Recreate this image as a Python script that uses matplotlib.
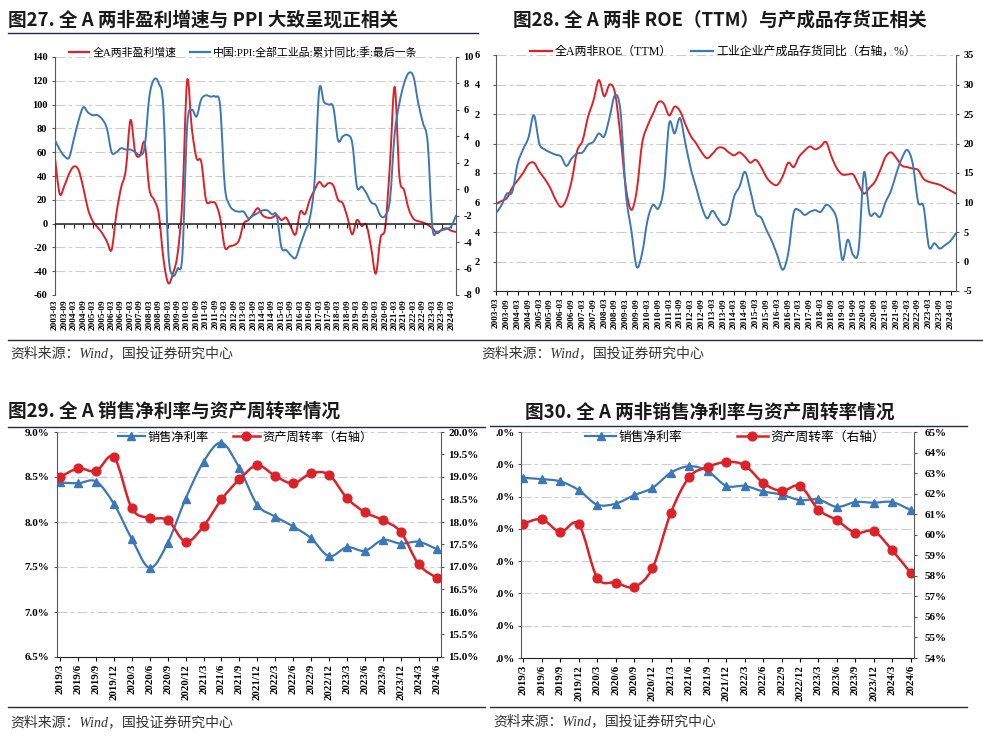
import numpy as np
import matplotlib
matplotlib.use('Agg')
import matplotlib.pyplot as plt
from matplotlib.path import Path
from matplotlib.patches import PathPatch
from matplotlib.lines import Line2D

plt.rcParams['font.family'] = ['Liberation Serif', 'Noto Sans CJK SC']
plt.rcParams['font.weight'] = 'bold'
plt.rcParams['axes.unicode_minus'] = False

W, H = 983, 740
RED = '#DC2228'
BLUE = '#3B78B5'
GRID = '#CCCCCC'
CJK = ['Liberation Serif', 'Noto Sans CJK SC']

# ---- top charts: quarterly 2003-03 .. 2024-06 ----
HALF_LABELS = [f'{y}-{m}' for y in range(2003, 2025) for m in ('03', '09')][:43]

PROFIT_GROWTH = [55, 25, 32, 42, 48, 45, 30, 12, 2, -3,
                 -8, -15, -22, 8, 30, 45, 87, 60, 57, 68,
                 29, 20, 8, -30, -50, -42, -25, 20, 120, 80,
                 55, 52, 20, 18, 17, 5, -20, -19, -18, -14,
                 0, 3, 8, 13, 7, 5, 5, 7, 3, 5,
                 -3, -9, 10, 8, 20, 28, 35, 31, 34, 32,
                 20, 17, 5, -9, 3, -2, -1, -20, -42, -12,
                 -3, 50, 115, 40, 28, 12, 4, 2, 1, -1,
                 -4, -8, -5, -4, -6, -7]
PPI_YTD = [3.7, 3.0, 2.5, 2.4, 3.8, 5.2, 6.2, 5.8, 5.6, 5.6,
           5.3, 4.6, 2.8, 2.8, 3.1, 3.0, 3.0, 2.8, 2.6, 3.2,
           7.0, 8.3, 8.0, 6.0, -4.6, -6.5, -6.0, -5.0, 4.7, 6.0,
           5.5, 6.8, 7.1, 7.0, 7.0, 6.3, 0.2, -1.2, -1.6, -1.7,
           -1.7, -2.2, -2.0, -1.8, -1.6, -1.6, -1.9, -2.0, -4.4, -4.6,
           -5.0, -5.2, -4.2, -3.2, -2.2, 0.5, 7.5, 6.6, 6.4, 6.2,
           3.7, 4.0, 4.1, 3.5, 0.2, 0.2, -0.3, -1.0, -1.2, -2.0,
           -2.0, -0.8, 4.2, 6.5, 8.0, 8.8, 8.5, 6.5, 5.0, 3.5,
           -2.9, -3.2, -3.1, -3.0, -2.8, -2.0]

ROE_TTM = [5.9, 6.1, 6.3, 7.0, 7.5, 8.0, 8.6, 8.7, 8.1, 7.6,
           7.0, 6.2, 5.7, 6.2, 7.5, 9.5, 10.2, 11.8, 12.9, 14.3,
           13.2, 14.0, 13.4, 10.5, 7.0, 5.5, 6.8, 10.0, 11.2, 12.0,
           12.8, 12.7, 11.9, 12.5, 12.2, 11.3, 10.5, 10.0, 9.4, 9.0,
           9.3, 9.7, 9.7, 9.4, 9.2, 9.4, 9.1, 8.7, 8.9, 8.4,
           7.7, 7.3, 7.2, 7.8, 8.7, 8.4, 9.1, 9.5, 9.8, 9.6,
           9.8, 10.1, 9.1, 8.3, 7.9, 7.9, 7.9, 7.2, 6.6, 7.0,
           7.4, 8.2, 9.1, 9.4, 9.0, 8.5, 8.4, 8.3, 8.2, 7.6,
           7.4, 7.3, 7.2, 7.0, 6.8, 6.6]
INVENTORY_YOY = [8.2, 9.5, 11.5, 11.8, 16.6, 19.0, 21.0, 24.8, 20.0, 19.0,
                 18.5, 18.1, 17.8, 16.2, 17.5, 18.3, 18.5, 19.8, 20.3, 21.7,
                 21.2, 24.5, 28.2, 25.5, 11.6, 5.3, -0.9, 1.4, 7.0, 9.6,
                 9.0, 12.5, 23.4, 21.7, 24.3, 20.0, 15.7, 12.5, 9.3, 7.3,
                 8.6, 7.3, 6.2, 7.0, 11.0, 12.7, 15.2, 12.0, 8.2, 7.4,
                 5.3, 3.4, 1.0, -1.4, 1.4, 8.2, 8.7, 7.9, 8.4, 8.7,
                 8.4, 9.6, 9.0, 7.0, 0.3, 3.7, 1.1, 2.0, 15.1, 8.2,
                 8.2, 7.6, 10.1, 12.0, 15.0, 17.5, 18.9, 16.6, 10.1, 9.3,
                 2.5, 3.1, 2.2, 2.8, 3.5, 4.8]

# ---- bottom charts: 2019/3 .. 2024/6 ----
Q_LABELS = ['2019/3', '2019/6', '2019/9', '2019/12', '2020/3', '2020/6', '2020/9', '2020/12',
            '2021/3', '2021/6', '2021/9', '2021/12', '2022/3', '2022/6', '2022/9', '2022/12',
            '2023/3', '2023/6', '2023/9', '2023/12', '2024/3', '2024/6']
NET_MARGIN_A = [8.44, 8.43, 8.45, 8.20, 7.81, 7.49, 7.77, 8.26, 8.67, 8.88, 8.60,
                8.19, 8.06, 7.95, 7.82, 7.62, 7.72, 7.68, 7.80, 7.76, 7.78, 7.70]
TURNOVER_A = [19.00, 19.19, 19.13, 19.44, 18.30, 18.09, 18.04, 17.56, 17.91, 18.50, 18.95,
              19.26, 19.02, 18.86, 19.08, 19.05, 18.53, 18.22, 18.04, 17.78, 17.06, 16.76]
NET_MARGIN_NF = [6.58, 6.54, 6.47, 6.20, 5.75, 5.78, 6.04, 6.27, 6.74, 6.94, 6.79,
                 6.33, 6.33, 6.16, 6.06, 5.89, 5.91, 5.68, 5.83, 5.81, 5.83, 5.58]
TURNOVER_NF = [60.54, 60.75, 60.13, 60.51, 57.91, 57.67, 57.46, 58.38, 61.08, 62.81, 63.30,
               63.54, 63.38, 62.52, 62.13, 62.37, 61.22, 60.70, 60.09, 60.17, 59.24, 58.14]

SOURCE = '资料来源：Wind，国投证券研究中心'


def px_axes(fig, left, top, right, bottom):
    return fig.add_axes([left / W, 1 - bottom / H, (right - left) / W, (bottom - top) / H])


def smooth_line(ax, x, y, color, lw):
    # excel-style smoothed line through the data points
    x = np.asarray(x, float)
    y = np.asarray(y, float)
    px = np.concatenate([[x[0]], x, [x[-1]]])
    py = np.concatenate([[y[0]], y, [y[-1]]])
    verts = [(x[0], y[0])]
    codes = [Path.MOVETO]
    for i in range(len(x) - 1):
        c1 = (px[i + 1] + (px[i + 2] - px[i]) / 6, py[i + 1] + (py[i + 2] - py[i]) / 6)
        c2 = (px[i + 2] - (px[i + 3] - px[i + 1]) / 6, py[i + 2] - (py[i + 3] - py[i + 1]) / 6)
        verts += [c1, c2, (x[i + 1], y[i + 1])]
        codes += [Path.CURVE4] * 3
    ax.add_patch(PathPatch(Path(verts, codes), fill=False, edgecolor=color, lw=lw,
                           capstyle='round', joinstyle='round'))


def hline(fig, x0, x1, y, color='#1F2A44', lw=1.0):
    fig.add_artist(Line2D([x0 / W, x1 / W], [1 - y / H, 1 - y / H], transform=fig.transFigure,
                          color=color, lw=lw))


def ftext(fig, x, y, s, **kw):
    fig.text(x / W, 1 - y / H, s, va='center', ha='left', **kw)


def style_axes(ax, axb, ylabelsize=7.5):
    ax.spines['top'].set_visible(False)
    ax.spines['right'].set_visible(False)
    ax.spines['left'].set_color('#595959')
    for s in ('top', 'left', 'bottom'):
        axb.spines[s].set_visible(False)
    axb.spines['right'].set_color('#595959')
    ax.yaxis.grid(True, color=GRID, linestyle=(0, (9, 3, 3, 3)), lw=0.8)
    ax.set_axisbelow(True)
    ax.tick_params(axis='y', length=2.5, width=0.8, color='#595959', labelsize=ylabelsize, pad=3)
    axb.tick_params(axis='y', length=2.5, width=0.8, color='#595959', labelsize=ylabelsize, pad=3)


fig = plt.figure(figsize=(W / 100, H / 100), dpi=100)

# ================= 图27 =================
q = np.arange(len(PROFIT_GROWTH))
ax1 = px_axes(fig, 55, 57, 456, 295)
ax1b = ax1.twinx()
style_axes(ax1, ax1b)
ax1.spines['bottom'].set_visible(False)
ax1.set_xlim(0, 85)
ax1.set_ylim(-60, 140)
ax1.set_yticks(range(-60, 141, 20))
ax1b.set_ylim(-8, 10)
ax1b.set_yticks(range(-8, 11, 2))
ax1.set_xticks(q[::2][:len(HALF_LABELS)])
ax1.set_xticklabels(HALF_LABELS, rotation=90, fontsize=6.6)
ax1.tick_params(axis='x', length=0, pad=3)
ax1.axhline(0, color='#222222', lw=1.1, zorder=3)
ax1.plot(q[::2][:len(HALF_LABELS)], np.zeros(len(HALF_LABELS)), ls='none', marker=3, ms=3,
         color='#222222', mew=0.8, zorder=3)
smooth_line(ax1, q, PROFIT_GROWTH, RED, 1.4)
smooth_line(ax1b, q, PPI_YTD, BLUE, 1.4)
h1 = [Line2D([], [], color=RED, lw=1.6), Line2D([], [], color=BLUE, lw=1.6)]
ax1b.legend(h1, ['全A两非盈利增速', '中国:PPI:全部工业品:累计同比:季:最后一条'], loc='center',
            bbox_to_anchor=(0.47, 1.02), ncol=2, frameon=False, handlelength=1.8,
            handletextpad=0.3, columnspacing=1.3, prop={'family': CJK, 'size': 7.8, 'weight': 'normal'})

# ================= 图28 =================
ax2 = px_axes(fig, 496, 55, 956, 291)
ax2b = ax2.twinx()
style_axes(ax2, ax2b)
ax2.spines['bottom'].set_color('#222222')
ax2.set_xlim(0, 85)
ax2.set_ylim(0, 16)
ax2.set_yticks(range(0, 17, 2))
ax2.set_yticklabels([str(v % 10) for v in range(0, 17, 2)])
ax2.tick_params(axis='y', pad=9)
ax2b.set_ylim(-5, 35)
ax2b.set_yticks(range(-5, 36, 5))
ax2.set_xticks(q[::2][:len(HALF_LABELS)])
ax2.set_xticklabels(HALF_LABELS, rotation=90, fontsize=6.6)
ax2.tick_params(axis='x', length=3, width=0.8, pad=2)
smooth_line(ax2, q, ROE_TTM, RED, 1.4)
smooth_line(ax2b, q, INVENTORY_YOY, BLUE, 1.4)
ax2b.legend(h1, ['全A两非ROE（TTM）', '工业企业产成品存货同比（右轴，%）'], loc='center',
            bbox_to_anchor=(0.494, 1.013), ncol=2, frameon=False, handlelength=1.8,
            handletextpad=0.3, columnspacing=1.6, prop={'family': CJK, 'size': 8.6, 'weight': 'normal'})

# ================= 图29 =================
k = np.arange(len(Q_LABELS))
ax3 = px_axes(fig, 57, 432, 441, 657)
ax3b = ax3.twinx()
style_axes(ax3, ax3b, ylabelsize=8)
ax3.spines['bottom'].set_color('#222222')
ax3.set_xlim(-0.18, 21.25)
ax3.set_ylim(6.5, 9.0)
ax3.set_yticks(np.arange(6.5, 9.01, 0.5))
ax3.set_yticklabels([f'{v:.1f}%' for v in np.arange(6.5, 9.01, 0.5)])
ax3b.set_ylim(15, 20)
ax3b.set_yticks(np.arange(15, 20.01, 0.5))
ax3b.set_yticklabels([f'{v:.1f}%' for v in np.arange(15, 20.01, 0.5)])
ax3.set_xticks(k)
ax3.set_xticklabels(Q_LABELS, rotation=90, fontsize=7.8)
ax3.tick_params(axis='x', length=3, width=0.8, pad=2)
smooth_line(ax3, k, NET_MARGIN_A, BLUE, 1.6)
ax3.plot(k, NET_MARGIN_A, ls='none', marker='^', ms=5.5, color=BLUE)
smooth_line(ax3b, k, TURNOVER_A, RED, 1.8)
ax3b.plot(k, TURNOVER_A, ls='none', marker='o', ms=6.3, color=RED)
h3 = [Line2D([], [], color=BLUE, lw=1.6, marker='^', ms=5.5),
      Line2D([], [], color=RED, lw=1.8, marker='o', ms=6.3)]
ax3b.legend(h3, ['销售净利率', '资产周转率（右轴）'], loc='center', bbox_to_anchor=(0.49, 0.975),
            ncol=2, frameon=False, handlelength=2.2, handletextpad=0.2, columnspacing=2.0,
            prop={'family': CJK, 'size': 8.8, 'weight': 'normal'})

# ================= 图30 =================
ax4 = px_axes(fig, 521, 432, 914, 658)
ax4b = ax4.twinx()
style_axes(ax4, ax4b, ylabelsize=8)
ax4.spines['bottom'].set_color('#222222')
ax4.set_xlim(-0.13, 21.18)
ax4.set_ylim(1, 8)
ax4.set_yticks(range(1, 9))
ax4.set_yticklabels(['.0%'] * 8)
ax4.tick_params(axis='y', pad=2)
ax4b.set_ylim(54, 65)
ax4b.set_yticks(range(54, 66))
ax4b.set_yticklabels([f'{v}%' for v in range(54, 66)])
ax4b.tick_params(axis='y', pad=5)
ax4.set_xticks(k)
ax4.set_xticklabels(Q_LABELS, rotation=90, fontsize=7.8)
ax4.tick_params(axis='x', length=3, width=0.8, pad=2)
smooth_line(ax4, k, NET_MARGIN_NF, BLUE, 1.6)
ax4.plot(k, NET_MARGIN_NF, ls='none', marker='^', ms=5.5, color=BLUE)
smooth_line(ax4b, k, TURNOVER_NF, RED, 1.8)
ax4b.plot(k, TURNOVER_NF, ls='none', marker='o', ms=6.3, color=RED)
ax4b.legend(h3, ['销售净利率', '资产周转率（右轴）'], loc='center', bbox_to_anchor=(0.545, 0.975),
            ncol=2, frameon=False, handlelength=2.4, handletextpad=0.2, columnspacing=4.3,
            prop={'family': CJK, 'size': 9.2, 'weight': 'normal'})

# ---- titles, rules, sources ----
title_kw = dict(family='Noto Sans CJK SC', weight='bold', fontsize=13.4, color='#1A1A1A')
ftext(fig, 8, 20, '图27. 全 A 两非盈利增速与 PPI 大致呈现正相关', **title_kw)
ftext(fig, 513, 20, '图28. 全 A 两非 ROE（TTM）与产成品存货正相关', **title_kw)
ftext(fig, 8, 411, '图29. 全 A 销售净利率与资产周转率情况', **title_kw)
ftext(fig, 525, 412, '图30. 全 A 两非销售净利率与资产周转率情况', **title_kw)

hline(fig, 8, 478, 33)
hline(fig, 8, 983, 340)
hline(fig, 8, 485, 427)
hline(fig, 490, 967, 426)
hline(fig, 8, 485, 707)
hline(fig, 490, 967, 707)

src_kw = dict(family=CJK, style='italic', weight='normal', fontsize=10, color='#333333')
ftext(fig, 10, 353, SOURCE, **src_kw)
ftext(fig, 481, 353, SOURCE, **src_kw)
ftext(fig, 10, 722, SOURCE, **src_kw)
ftext(fig, 493, 721, SOURCE, **src_kw)

fig.savefig('out.png', dpi=100, facecolor='white')
